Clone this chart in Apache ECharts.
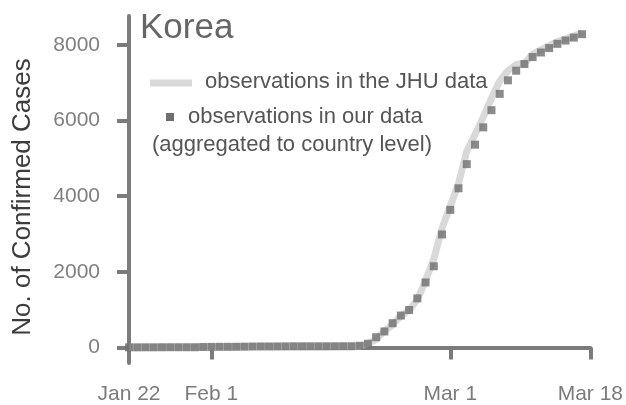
<!DOCTYPE html>
<html>
<head>
<meta charset="utf-8">
<script src="https://cdn.jsdelivr.net/npm/echarts@6/dist/echarts.min.js"></script>
<style>
html,body{margin:0;padding:0;background:#fff;}
#chart{width:626px;height:405px;}
</style>
</head>
<body>
<div id="chart"></div>
<script>
// Days since Jan 22, 2020 (Jan 22 .. Mar 17)
const jhuValues = [1,1,2,2,3,4,4,4,4,11,12,15,15,16,19,23,24,24,25,27,28,28,28,28,28,29,30,31,
  31,104,204,433,602,833,977,1261,1766,2337,3150,
  3736,4335,5186,5621,6088,6593,7041,7314,7478,7513,7755,7869,7979,8086,8162,8236,8320];
const ourValues = [1,1,2,2,3,4,4,4,4,11,12,15,15,16,19,23,24,24,25,27,28,28,28,28,28,29,30,31,
  42,95,270,421,639,841,988,1296,1717,2145,2986,
  3636,4206,4845,5360,5818,6272,6703,7061,7316,7492,7676,7797,7913,8026,8113,8191,8281];
const xTickDays = [0,10,39,56];
const xTickLabels = ['Jan 22','Feb 1','Mar 1','Mar 18'];
const yTickValues = [0,2000,4000,6000,8000];

const FONT = '"Liberation Sans", Arial, Helvetica, sans-serif';
const AX = '#7b7b7b';

const chart = echarts.init(document.getElementById('chart'), null, {renderer:'canvas'});
const jhuData = jhuValues.map((v,i)=>[i,v]);
const ourData = ourValues.map((v,i)=>[i,v]);

chart.setOption({
  animation:false,
  backgroundColor:'#ffffff',
  grid:{left:129,right:28.5,top:16,bottom:40},
  xAxis:{
    type:'value', min:0, max:56,
    axisLine:{show:true,lineStyle:{color:AX,width:4}},
    axisTick:{show:true,inside:false,length:12,lineStyle:{color:AX,width:4},customValues:xTickDays},
    axisLabel:{show:true,margin:21,color:'#7b7b7b',fontSize:21,fontFamily:FONT,customValues:xTickDays,
      formatter:function(v){const i=xTickDays.indexOf(Math.round(v));return i>=0?xTickLabels[i]:'';}},
    splitLine:{show:false}
  },
  yAxis:{
    type:'value', min:-413, max:8762,
    axisLine:{show:true,lineStyle:{color:AX,width:4}},
    axisTick:{show:true,inside:false,length:12,lineStyle:{color:AX,width:4},customValues:yTickValues},
    axisLabel:{show:true,margin:29,color:'#808080',fontSize:21,fontFamily:FONT,customValues:yTickValues,
      formatter:function(v){return String(Math.round(v));}},
    splitLine:{show:false}
  },
  series:[
    {type:'line',data:jhuData,showSymbol:false,symbol:'none',
     lineStyle:{color:'#d9d9d9',width:7},z:1},
    {type:'scatter',data:ourData,symbol:'rect',symbolSize:8,
     itemStyle:{color:'#6e6e6e'},z:2}
  ],
  graphic:[
    {type:'text',left:140,top:11,style:{text:'Korea',fontSize:35,fontFamily:FONT,fill:'#666666'}},
    {type:'line',shape:{x1:150,y1:83,x2:192,y2:83},style:{stroke:'#d9d9d9',lineWidth:7}},
    {type:'text',x:205,y:82,style:{text:'observations in the JHU data',fontSize:22,fontFamily:FONT,fill:'#555555',verticalAlign:'middle'}},
    {type:'rect',shape:{x:166,y:113,width:8,height:8},style:{fill:'#6e6e6e'}},
    {type:'text',x:188,y:117,style:{text:'observations in our data',fontSize:22,fontFamily:FONT,fill:'#555555',verticalAlign:'middle'}},
    {type:'text',x:152,y:145,style:{text:'(aggregated to country level)',fontSize:22,fontFamily:FONT,fill:'#555555',verticalAlign:'middle'}},
    {type:'text',x:23,y:197,rotation:Math.PI/2,style:{text:'No. of Confirmed Cases',fontSize:26,fontFamily:FONT,fill:'#3c3c3c',align:'center',verticalAlign:'middle'}}
  ]
});
</script>
</body>
</html>
